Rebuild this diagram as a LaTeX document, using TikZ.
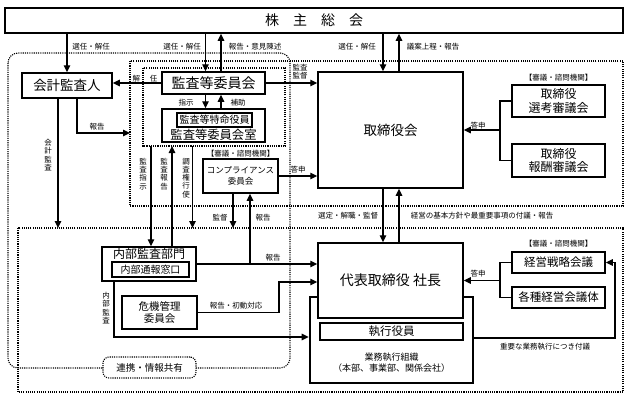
\documentclass[tikz,border=0pt]{standalone}
\usepackage{fontspec}
\setmainfont{Noto Sans CJK JP}
\usetikzlibrary{arrows.meta}
\newcommand{\fs}[2]{\fontsize{#1}{#2}\selectfont}
\tikzset{
  box/.style={draw, line width=1.5pt, fill=white, inner sep=0pt, align=center},
  conn/.style={line width=1.3pt},
  arr/.style={conn, -{Triangle[length=7pt,width=6.5pt]}},
  region/.style={line width=1.1pt, dash pattern=on 1.1pt off 1.1pt},
  lbl/.style={inner sep=0pt, font=\fs{7.5}{8.2}, align=center},
}
\begin{document}
\begin{tikzpicture}[x=1pt,y=-1pt]
  \useasboundingbox (0,0) rectangle (630,400);
  % dotted areas
  \draw[region, rounded corners=10pt] (8,53) rectangle (290,368);
  \draw[region] (130,61) rectangle (623,206);
  \draw[region] (143,68) rectangle (285,146);
  \draw[region] (18,228) rectangle (623,392);

  % boxes
  \node[box, minimum width=618pt, minimum height=25pt, font=\fs{14}{14}] (gm) at (314,20.5) {株　主　総　会};
  \node[box, minimum width=90pt, minimum height=25pt, font=\fs{13.5}{14}] (auditor) at (67,85.5) {会計監査人};
  \node[box, minimum width=103pt, minimum height=22pt, font=\fs{14}{14}] (acom) at (213.5,83) {監査等委員会};
  \node[box, minimum width=103pt, minimum height=33pt] (aroom) at (213.5,125.5) {};
  \node[box, line width=1.3pt, minimum width=75pt, minimum height=14pt, font=\fs{10}{10}] (special) at (214.5,120) {監査等特命役員};
  \node[lbl, font=\fs{12.3}{13}] (roomtxt) at (213.5,135) {監査等委員会室};
  \node[box, minimum width=145pt, minimum height=116pt, font=\fs{13.5}{14}] (board) at (390.5,130) {取締役会};
  \node[lbl] (nomlbl) at (558.5,78) {【審議・諮問機関】};
  \node[box, minimum width=93pt, minimum height=32pt, font=\fs{12}{13.5}] (nom) at (558.5,101) {取締役\\選考審議会};
  \node[box, minimum width=93pt, minimum height=33pt, font=\fs{12}{13.5}] (rem) at (558.5,160.5) {取締役\\報酬審議会};
  \node[lbl] (complbl) at (240.5,154) {【審議・諮問機関】};
  \node[box, minimum width=75pt, minimum height=34pt, font=\fs{8.5}{11}] (comp) at (240.5,176) {コンプライアンス\\委員会};
  \node[box, minimum width=94pt, minimum height=34pt] (ia) at (149,264) {};
  \node[lbl, font=\fs{12}{12}] (iatxt) at (149,253.5) {内部監査部門};
  \node[box, line width=1.3pt, minimum width=77pt, minimum height=15pt, font=\fs{10}{10}] (iawin) at (150.5,269.5) {内部通報窓口};
  \node[box, minimum width=75pt, minimum height=33pt, font=\fs{10.5}{12}] (crisis) at (159.5,312.5) {危機管理\\委員会};
  \node[box, line width=2.6pt, minimum width=163pt, minimum height=86pt] (org) at (391.5,340) {};
  \node[box, minimum width=145pt, minimum height=75pt, font=\fs{14}{14}] (ceo) at (390.5,280.5) {代表取締役 社長};
  \node[box, minimum width=143pt, minimum height=17pt, font=\fs{11.5}{12}] (exec) at (391.5,331.5) {執行役員};
  \node[lbl, font=\fs{9}{11.5}] (orgtxt) at (391.5,362.5) {業務執行組織\\（本部、事業部、関係会社）};
  \node[lbl] (stratlbl) at (558.5,244) {【審議・諮問機関】};
  \node[box, minimum width=93pt, minimum height=21pt, font=\fs{11.5}{12}] (strat) at (558.5,262.5) {経営戦略会議};
  \node[box, minimum width=93pt, minimum height=21pt, font=\fs{11.5}{12}] (var) at (558.5,297.5) {各種経営会議体};
  \node[box, region, rounded corners=6pt, minimum width=93pt, minimum height=21pt, font=\fs{9.5}{10}] (share) at (149.5,367.5) {連携・情報共有};

  % helper points
  \coordinate (a1) at ([xshift=-8pt]acom.north);
  \coordinate (a2) at ([xshift=7.5pt]acom.north);
  \coordinate (b1) at ([xshift=-7.5pt]board.north);
  \coordinate (b2) at ([xshift=8.5pt]board.north);
  \coordinate (au1) at ([xshift=10pt]auditor.south);
  \coordinate (au2) at ([xshift=-9pt]auditor.south);
  \coordinate (bdW) at (130,133);
  \coordinate (exN) at (0,228);
  \coordinate (acS) at (0,146);
  \coordinate (m1) at (151,0);
  \coordinate (m2) at (172,0);
  \coordinate (m3) at (192.5,0);
  \coordinate (c1) at ([xshift=-7.5pt]comp.south);
  \coordinate (c2) at ([xshift=9.5pt]comp.south);
  \coordinate (k1) at (279,282);
  \coordinate (i1) at ([xshift=-35pt]ia.south);
  \coordinate (i2) at (0,337);
  \coordinate (jb) at (500,130);
  \coordinate (jc) at (500,280.5);
  \coordinate (r1) at (615,338);

  % shareholders
  \draw[arr] (gm.south -| auditor.north) -- (auditor.north);
  \draw[arr] (gm.south -| a1) -- (a1);
  \draw[arr] (a2) -- (gm.south -| a2);
  \draw[arr] (gm.south -| b1) -- (b1);
  \draw[arr] (b2) -- (gm.south -| b2);
  % audit committee
  \draw[arr] (acom.west) -- (acom.west -| auditor.east);
  \draw[arr] (acom.east) -- (acom.east -| board.west);
  \draw[arr] (acom.south -| a1) -- (aroom.north -| a1);
  \draw[arr] (aroom.north -| a2) -- (acom.south -| a2);
  \draw[arr] (au1) |- (bdW);
  \draw[arr] (au2) -- (au2 |- exN);
  \draw[arr] (m1 |- acS) -- (m1 |- ia.north);
  \draw[arr] (m2 |- ia.north) -- (m2 |- acS);
  \draw[arr] (m3 |- acS) -- (m3 |- exN);
  % compliance, internal audit, crisis
  \draw[arr] (comp.east) -- (comp.east -| board.west);
  \draw[arr] (c1) -- (c1 |- exN);
  \draw[arr] (ia.east) -- (ia.east -| ceo.west);
  \draw[arr] (c2 |- ia.east) -- (c2);
  \draw[arr] (crisis.east) -| (k1) -- (k1 -| ceo.west);
  \draw[arr] (i1) |- (i2 -| org.west);
  % board and president
  \draw[arr] (b1 |- board.south) -- (b1 |- ceo.north);
  \draw[arr] (b2 |- ceo.north) -- (b2 |- board.south);
  \draw[conn] (nom.west) -| (jb) |- (rem.west);
  \draw[arr] (jb) -- (board.east);
  \draw[conn] (strat.west) -| (jc) |- (var.west);
  \draw[arr] (jc) -- (ceo.east);
  \draw[arr] (r1 -| org.east) -- (r1) |- (strat.east);

  % labels
  \node[lbl] (l1) at (91,47) {選任・解任};
  \node[lbl] (l2) at (182,47) {選任・解任};
  \node[lbl] (l3) at (255,47) {報告・意見陳述};
  \node[lbl] (l4) at (357,47) {選任・解任};
  \node[lbl] (l5) at (433,47) {議案上程・報告};
  \node[lbl] (l6) at (145,79) {解\hspace{10pt}任};
  \node[lbl] (l7) at (300,72) {監査\\監督};
  \node[lbl] (l8) at (186,103) {指示};
  \node[lbl] (l9) at (238,103) {補助};
  \node[lbl] (l10) at (97,127) {報告};
  \node[lbl] (l11) at (48,155) {会\\計\\監\\査};
  \node[lbl] (l12) at (143,174) {監\\査\\指\\示};
  \node[lbl] (l13) at (164,174) {監\\査\\報\\告};
  \node[lbl] (l14) at (186,178) {調\\査\\権\\行\\使};
  \node[lbl] (l15) at (298,170) {答申};
  \node[lbl] (l16) at (478,126) {答申};
  \node[lbl] (l17) at (478,274) {答申};
  \node[lbl] (l18) at (220,218) {監督};
  \node[lbl] (l19) at (263,218) {報告};
  \node[lbl] (l20) at (348,216) {選定・解職・監督};
  \node[lbl] (l21) at (482,216) {経営の基本方針や最重要事項の付議・報告};
  \node[lbl] (l22) at (273,258) {報告};
  \node[lbl] (l23) at (236,306) {報告・初動対応};
  \node[lbl] (l24) at (106,308) {内\\部\\監\\査};
  \node[lbl] (l25) at (545,347) {重要な業務執行につき付議};
\end{tikzpicture}
\end{document}
